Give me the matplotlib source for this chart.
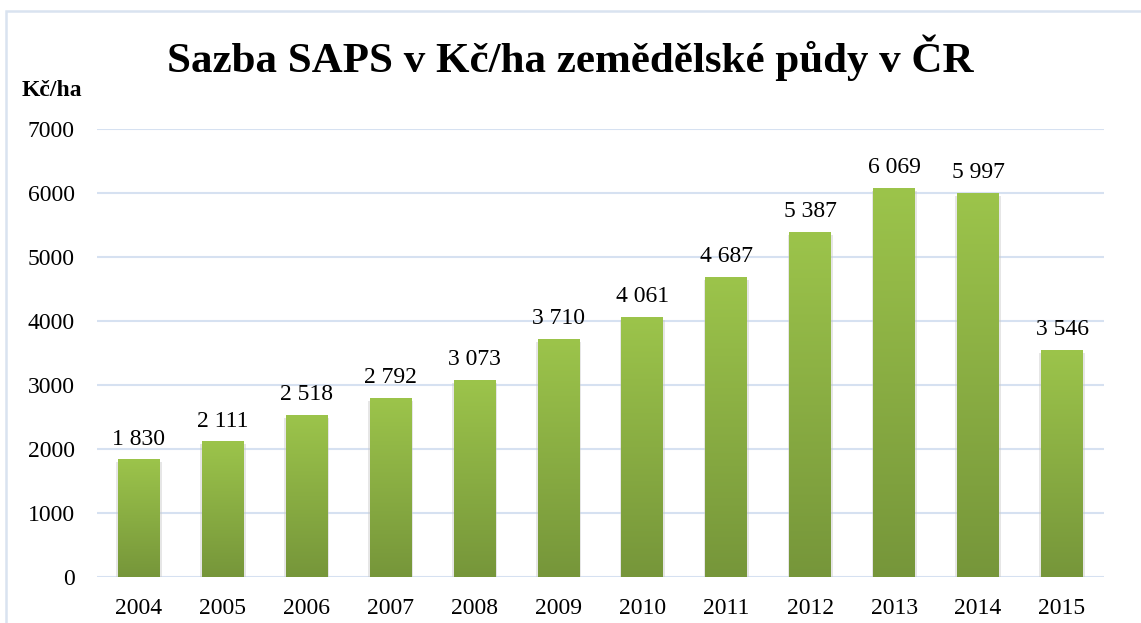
import numpy as np
import matplotlib.pyplot as plt
from matplotlib.patches import Rectangle
from matplotlib.colors import LinearSegmentedColormap

years = ["2004", "2005", "2006", "2007", "2008", "2009", "2010", "2011", "2012", "2013", "2014", "2015"]
values = [1830, 2111, 2518, 2792, 3073, 3710, 4061, 4687, 5387, 6069, 5997, 3546]
labels = ["1 830", "2 111", "2 518", "2 792", "3 073", "3 710", "4 061", "4 687", "5 387", "6 069", "5 997", "3 546"]
yticks = [0, 1000, 2000, 3000, 4000, 5000, 6000, 7000]

plt.rcParams['font.family'] = ['Liberation Serif', 'DejaVu Serif']

W, H = 1141, 623
fig = plt.figure(figsize=(W / 100, H / 100), dpi=100)
# plot area in pixels: x 97..1104, y 129..577
ax = fig.add_axes([97 / W, 1 - 577 / H, (1104 - 97) / W, (577 - 129) / H])

# outer border of the chart (cut at right/bottom like the reference)
fig.patches.append(Rectangle((6 / W, -0.05), 1.2, 1 - 11 / H + 0.05, transform=fig.transFigure,
                             fill=False, edgecolor='#D9E3F0', linewidth=1.8))

grid_col = '#D6E1F1'
for t in yticks:
    ax.axhline(t, color=grid_col, linewidth=1.5, zorder=0)

cmap = LinearSegmentedColormap.from_list('g', ['#76963A', '#9CC44B'])
grad = np.linspace(0, 1, 256).reshape(-1, 1)
width = 0.5
x = np.arange(len(years))
for i, v in enumerate(values):
    # soft shadow
    ax.add_patch(Rectangle((x[i] - width / 2 - 0.02, -40), width + 0.04, v, facecolor='#C8C8C8',
                           edgecolor='none', alpha=0.45, zorder=1))
    ax.imshow(grad, cmap=cmap, origin='lower', aspect='auto',
              extent=(x[i] - width / 2, x[i] + width / 2, 0, v), zorder=2)
    ax.text(x[i], v + 240, labels[i], ha='center', va='baseline', fontsize=17, zorder=3)

ax.set_xlim(-0.5, len(years) - 0.5)
ax.set_ylim(0, 7000)
ax.set_xticks(x)
ax.set_xticklabels(years, fontsize=17)
ax.set_yticks(yticks)
ax.set_yticklabels([str(t) for t in yticks], fontsize=17)
ax.tick_params(length=0)
ax.tick_params(axis='x', pad=15)
ax.tick_params(axis='y', pad=16)
for s in ax.spines.values():
    s.set_visible(False)
ax.set_facecolor('none')

fig.text(0.5, 1 - 58 / H, "Sazba SAPS v Kč/ha zemědělské půdy v ČR", ha='center', va='center',
         fontsize=31, fontweight='bold')
fig.text(22 / W, 1 - 91 / H, "Kč/ha", ha='left', va='center', fontsize=17, fontweight='bold')

fig.savefig('out.png', dpi=100)
